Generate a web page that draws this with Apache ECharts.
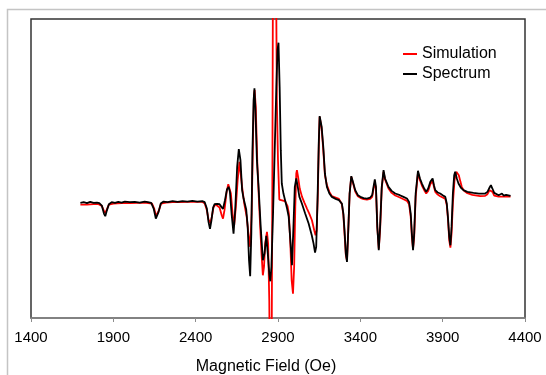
<!DOCTYPE html>
<html>
<head>
<meta charset="utf-8">
<script src="https://cdn.jsdelivr.net/npm/echarts@6/dist/echarts.min.js"></script>
<style>
html,body{margin:0;padding:0;background:#fff;}
#chart{width:546px;height:375px;}
</style>
</head>
<body>
<div id="chart"></div>
<script>
// X tick labels
const xTicks = [1400, 1900, 2400, 2900, 3400, 3900, 4400];

// Spectrum (black), magnetic field in Oe and signal (arb. units)
const spectrumField = [1700,1720,1740,1760,1780,1800,1815,1830,1843,1851,1860,1873,1890,1910,1930,1950,1970,2000,2030,2060,2090,2110,2130,2145,2158,2165,2175,2188,2205,2230,2260,2290,2320,2350,2380,2410,2440,2455,2468,2478,2487,2496,2506,2515,2530,2545,2556,2566,2578,2590,2600,2608,2618,2630,2640,2652,2662,2672,2682,2691,2707,2716,2724,2731,2738,2745,2752,2757,2763,2772,2782,2795,2808,2818,2829,2838,2847,2853,2860,2870,2880,2890,2897,2903,2910,2917,2923,2933,2943,2955,2965,2975,2985,2993,3002,3011,3020,3030,3045,3065,3086,3105,3116,3125,3132,3140,3148,3153,3157,3165,3175,3185,3197,3212,3227,3250,3270,3288,3297,3304,3312,3319,3326,3335,3345,3355,3369,3385,3400,3420,3440,3460,3472,3480,3488,3495,3503,3512,3520,3530,3541,3550,3571,3590,3612,3640,3662,3683,3696,3706,3713,3720,3727,3736,3750,3762,3774,3788,3800,3812,3825,3839,3847,3855,3870,3885,3900,3916,3925,3932,3940,3947,3954,3962,3970,3976,3986,3996,4010,4026,4050,4087,4120,4158,4172,4185,4193,4202,4213,4225,4240,4250,4260,4270,4285,4295,4306,4312];
const spectrumSignal = [2,4,1,5,2,3,1,-6,-30,-38,-22,-2,4,2,5,3,6,4,5,3,6,4,2,-15,-45,-50,-25,0,6,4,7,5,7,6,8,6,7,4,-15,-55,-76,-50,-12,-2,-1,-2,-10,-16,10,42,50,35,-30,-90,-20,110,163,130,40,15,-18,-70,-170,-218,-90,160,310,345,280,130,50,-70,-170,-150,-97,-150,-210,-233,-190,-30,160,350,460,482,350,160,60,30,10,-15,-40,-110,-185,-80,50,75,50,20,0,-30,-60,-95,-120,-147,-130,10,190,262,265,230,170,90,50,30,20,14,10,0,-30,-80,-150,-175,-90,30,82,65,40,25,20,16,15,18,25,50,72,50,-70,-140,-70,50,100,75,50,38,30,25,20,15,5,-30,-90,-140,-90,30,98,75,60,45,35,45,65,75,55,40,33,30,25,20,0,-40,-100,-125,-70,30,85,95,75,60,48,40,35,32,30,30,35,48,55,45,32,27,25,28,30,24,26,23,24,23];

// Simulation (red)
const simField = [1700,1740,1780,1810,1830,1843,1851,1860,1873,1900,1950,2000,2050,2100,2135,2148,2160,2167,2177,2190,2220,2260,2300,2350,2400,2440,2455,2468,2478,2489,2498,2508,2520,2530,2545,2558,2566,2575,2588,2598,2606,2614,2624,2634,2644,2655,2666,2672,2682,2695,2710,2720,2731,2740,2748,2754,2758,2765,2775,2788,2800,2808,2815,2822,2833,2840,2847,2852,2857,2862,2866,2870,2875,2882,2888,2893,2900,2908,2915,2930,2943,2950,2958,2966,2975,2983,2991,2998,3005,3011,3015,3022,3032,3046,3061,3076,3090,3106,3120,3128,3135,3142,3148,3153,3158,3165,3175,3185,3197,3212,3227,3250,3270,3288,3297,3304,3312,3319,3326,3335,3345,3355,3369,3385,3400,3420,3440,3460,3472,3480,3488,3495,3503,3512,3520,3530,3541,3550,3571,3590,3612,3640,3662,3683,3696,3706,3713,3720,3727,3736,3750,3762,3774,3788,3800,3812,3825,3839,3847,3855,3870,3885,3900,3916,3925,3932,3940,3947,3954,3962,3972,3983,3990,3998,4008,4016,4030,4046,4080,4128,4158,4172,4185,4193,4203,4213,4240,4270,4312];
const simSignal = [-3,-3,-2,-2,-7,-22,-28,-18,-3,0,1,1,2,2,0,-15,-38,-40,-20,0,3,4,4,5,5,5,0,-20,-48,-58,-40,-12,-2,-3,-12,-35,-45,-20,35,58,62,30,-30,-65,-10,70,125,128,50,0,-40,-90,-130,-30,190,325,340,290,110,-30,-150,-215,-190,-120,-85,-120,-290,-590,-790,-390,110,810,1210,1210,710,310,130,12,10,9,7,2,-8,-30,-120,-230,-270,-190,-10,90,100,80,45,20,2,-15,-30,-50,-80,-95,-80,30,180,260,260,225,160,85,55,35,22,18,14,-2,-35,-90,-155,-170,-90,30,80,62,36,22,17,13,12,14,20,44,62,45,-70,-135,-80,45,95,72,45,32,24,18,13,8,-2,-40,-100,-135,-100,20,92,70,54,40,30,38,58,68,50,35,27,22,18,14,-5,-45,-110,-132,-90,0,70,95,98,85,65,50,38,32,26,22,23,28,40,45,35,24,21,21,21];

const simData = simField.map((f, i) => [f, simSignal[i]]);
const specData = spectrumField.map((f, i) => [f, spectrumSignal[i]]);

const chart = echarts.init(document.getElementById('chart'), null, {renderer: 'canvas'});
chart.setOption({
  animation: false,
  backgroundColor: '#ffffff',
  graphic: [{
    type: 'rect',
    shape: {x: 7.5, y: 9.5, width: 600, height: 400},
    style: {fill: 'none', stroke: '#c4c4c4', lineWidth: 1.5},
    silent: true, z: -10
  }],
  grid: {
    left: 31, right: 21, top: 19, bottom: 57,
    outerBoundsMode: 'none',
    containLabel: false,
    show: true, borderColor: '#333', borderWidth: 1.5, backgroundColor: 'transparent'
  },
  legend: {
    orient: 'vertical',
    left: 398, top: 41,
    itemWidth: 14, itemHeight: 2, itemGap: 4,
    icon: 'rect',
    textStyle: {fontSize: 16, fontFamily: 'Liberation Sans, Arial, sans-serif', color: '#000', lineHeight: 16},
    data: ['Simulation', 'Spectrum']
  },
  xAxis: {
    type: 'value',
    min: 1400, max: 4400, interval: 500,
    name: 'Magnetic Field (Oe)',
    nameLocation: 'middle',
    nameGap: 41,
    nameTextStyle: {fontSize: 16, fontFamily: 'Liberation Sans, Arial, sans-serif', color: '#000', padding: [0, 24, 0, 0]},
    axisLine: {show: true, onZero: false, lineStyle: {color: '#8c8c8c', width: 1.5}},
    axisTick: {show: true, length: 4, lineStyle: {color: '#8c8c8c'}},
    axisLabel: {
      fontSize: 15, fontFamily: 'Liberation Sans, Arial, sans-serif', color: '#000', margin: 12,
      formatter: v => (xTicks.indexOf(v) >= 0 ? String(v) : '')
    },
    splitLine: {show: false}
  },
  yAxis: {
    type: 'value',
    min: -343, max: 553,
    show: false,
    splitLine: {show: false}
  },
  series: [
    {
      name: 'Simulation', type: 'line', data: simData,
      showSymbol: false, symbol: 'none',
      itemStyle: {color: '#ff0000'},
      lineStyle: {color: '#ff0000', width: 1.8},
      clip: true, z: 2
    },
    {
      name: 'Spectrum', type: 'line', data: specData,
      showSymbol: false, symbol: 'none',
      itemStyle: {color: '#000000'},
      lineStyle: {color: '#000000', width: 1.8},
      clip: true, z: 3
    }
  ]
});
</script>
</body>
</html>
